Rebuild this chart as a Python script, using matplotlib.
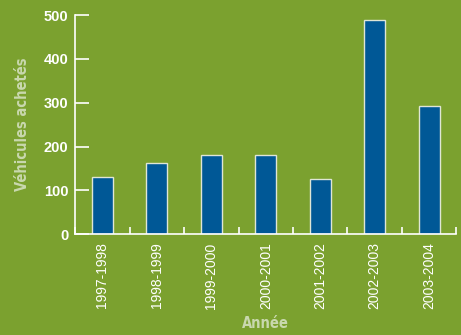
import numpy as np
import matplotlib
matplotlib.use("Agg")
import matplotlib.pyplot as plt
from matplotlib import font_manager

# données
periodes = ["1997-1998", "1998-1999", "1999-2000", "2000-2001", "2001-2002", "2002-2003", "2003-2004"]
vehicules = [130, 162, 181, 180, 125, 489, 292]

fond = "#7ba12f"
bleu = "#005896"
texte = "#c9d8ae"

# chercher une police étroite (grasse) installée
etroite = None
fichiers = sorted(f.fname for f in font_manager.fontManager.ttflist)
for n in fichiers:
    b = n.lower().rsplit("/", 1)[-1]
    if "dejavusanscondensed-bold.ttf" == b:
        etroite = font_manager.FontProperties(fname=n, size=10.5)
        break
if etroite is None:
    for n in fichiers:
        b = n.lower().rsplit("/", 1)[-1]
        if ("condensed" in b or "narrow" in b) and ("semibold" in b or "medium" in b or "bold" in b) \
                and "italic" not in b and "oblique" not in b and "extra" not in b:
            etroite = font_manager.FontProperties(fname=n, size=10.5)
            break
if etroite is None:
    etroite = font_manager.FontProperties(family="Roboto", size=10.5)

fig = plt.figure(figsize=(4.61, 3.35), dpi=100, facecolor=fond)
ax = fig.add_axes([0.163, 0.301, 0.827, 0.654], facecolor=fond)

x = np.arange(len(periodes))
ax.bar(x, vehicules, width=0.38, color=bleu, edgecolor="#dfe6d6", linewidth=1)

ax.set_xlim(-0.5, len(periodes) - 0.5)
ax.set_ylim(0, 500)
ax.set_yticks([0, 100, 200, 300, 400, 500])

for s in ["top", "right"]:
    ax.spines[s].set_visible(False)
for s in ["left", "bottom"]:
    ax.spines[s].set_color("white")
    ax.spines[s].set_linewidth(1.2)

ax.tick_params(axis="y", direction="in", length=10, width=1.2, color="white",
               labelcolor="white", labelsize=10.5, pad=5)
for lab in ax.get_yticklabels():
    lab.set_fontfamily("Liberation Sans")
    lab.set_fontweight("bold")

# graduations entre les barres
ax.set_xticks(x)
ax.set_xticklabels(periodes, rotation=90, fontfamily="Liberation Sans", fontsize=10, color="white")
ax.tick_params(axis="x", length=0, pad=6)
ax.set_xticks(np.arange(-0.5, len(periodes) + 0.5, 1), minor=True)
ax.tick_params(axis="x", which="minor", direction="in", length=5, width=1.2, color="white")

ax.set_xlabel("Année", color=texte, fontproperties=etroite, labelpad=5)
ax.set_ylabel("Véhicules achetés", color=texte, fontproperties=etroite, labelpad=10)

plt.savefig("out.png", dpi=100, facecolor=fond)
